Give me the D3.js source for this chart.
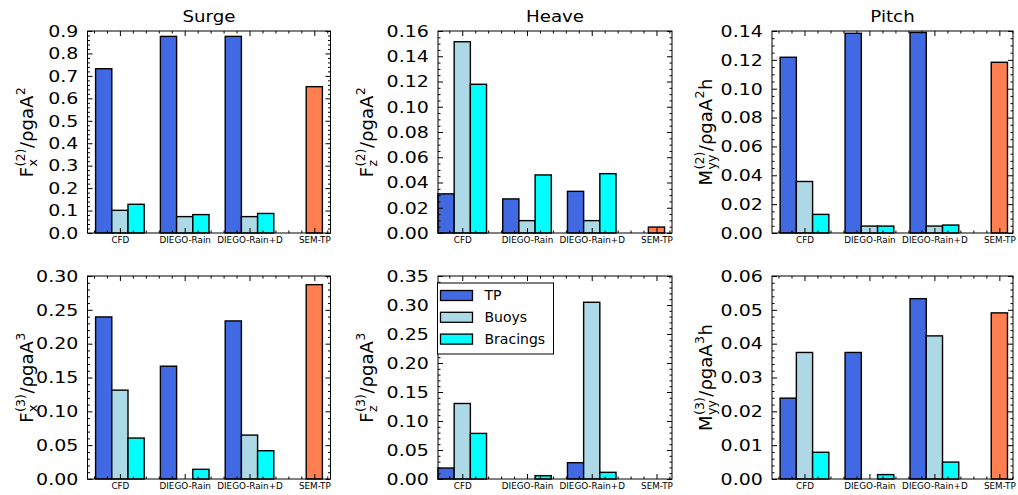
<!DOCTYPE html>
<html>
<head>
<meta charset="utf-8">
<script src="https://cdn.jsdelivr.net/npm/d3@7"></script>
<style>
  html, body { margin: 0; padding: 0; background: #fff; }
  svg { display: block; font-family: "DejaVu Sans", sans-serif; }
</style>
</head>
<body>
<svg id="fig" width="1018" height="495"></svg>
<script>
// Categories and series
const categories = ["CFD", "DIEGO-Rain", "DIEGO-Rain+D"];
const tickLabels = ["CFD", "DIEGO-Rain", "DIEGO-Rain+D", "SEM-TP"];
const seriesNames = ["TP", "Buoys", "Bracings"];
const seriesColors = ["#4169E1", "#ADD8E6", "#00FFFF"];
const semColor = "#FF7F50";

// Second-order loads
const surge2TP       = [0.732, 0.876, 0.876];
const surge2Buoys    = [0.101, 0.073, 0.073];
const surge2Bracings = [0.128, 0.082, 0.087];
const surge2Sem      = 0.652;

const heave2TP       = [0.031, 0.027, 0.033];
const heave2Buoys    = [0.1515, 0.0098, 0.0098];
const heave2Bracings = [0.1178, 0.046, 0.047];
const heave2Sem      = 0.0047;

const pitch2TP       = [0.1218, 0.1384, 0.139];
const pitch2Buoys    = [0.0357, 0.0048, 0.0048];
const pitch2Bracings = [0.0129, 0.0048, 0.0055];
const pitch2Sem      = 0.1183;

// Third-order loads
const surge3TP       = [0.2395, 0.1667, 0.2336];
const surge3Buoys    = [0.1313, 0.0, 0.0649];
const surge3Bracings = [0.0605, 0.0143, 0.0418];
const surge3Sem      = 0.2872;

const heave3TP       = [0.0189, 0.0, 0.0281];
const heave3Buoys    = [0.1302, 0.0, 0.3047];
const heave3Bracings = [0.0786, 0.0057, 0.0115];
const heave3Sem      = 0.0;

const pitch3TP       = [0.0239, 0.0374, 0.0533];
const pitch3Buoys    = [0.0374, 0.0, 0.0423];
const pitch3Bracings = [0.0079, 0.0013, 0.005];
const pitch3Sem      = 0.0491;

// Y axis tick labels per panel
const surge2Ticks = ["0.0","0.1","0.2","0.3","0.4","0.5","0.6","0.7","0.8","0.9"];
const heave2Ticks = ["0.00","0.02","0.04","0.06","0.08","0.10","0.12","0.14","0.16"];
const pitch2Ticks = ["0.00","0.02","0.04","0.06","0.08","0.10","0.12","0.14"];
const surge3Ticks = ["0.00","0.05","0.10","0.15","0.20","0.25","0.30"];
const heave3Ticks = ["0.00","0.05","0.10","0.15","0.20","0.25","0.30","0.35"];
const pitch3Ticks = ["0.00","0.01","0.02","0.03","0.04","0.05","0.06"];

const titles = ["Surge", "Heave", "Pitch"];

const panels = [
  { row: 0, col: 0, tp: surge2TP, buoys: surge2Buoys, brac: surge2Bracings, sem: surge2Sem, ticks: surge2Ticks, minor: 5,
    label: { base: "F", sub: "x", sup: "(2)", rest: "/\u03C1gaA", exp: "2", tail: "" } },
  { row: 0, col: 1, tp: heave2TP, buoys: heave2Buoys, brac: heave2Bracings, sem: heave2Sem, ticks: heave2Ticks, minor: 4,
    label: { base: "F", sub: "z", sup: "(2)", rest: "/\u03C1gaA", exp: "2", tail: "" } },
  { row: 0, col: 2, tp: pitch2TP, buoys: pitch2Buoys, brac: pitch2Bracings, sem: pitch2Sem, ticks: pitch2Ticks, minor: 4,
    label: { base: "M", sub: "yy", sup: "(2)", rest: "/\u03C1gaA", exp: "2", tail: "h" } },
  { row: 1, col: 0, tp: surge3TP, buoys: surge3Buoys, brac: surge3Bracings, sem: surge3Sem, ticks: surge3Ticks, minor: 5,
    label: { base: "F", sub: "x", sup: "(3)", rest: "/\u03C1gaA", exp: "3", tail: "" } },
  { row: 1, col: 1, tp: heave3TP, buoys: heave3Buoys, brac: heave3Bracings, sem: heave3Sem, ticks: heave3Ticks, minor: 5,
    label: { base: "F", sub: "z", sup: "(3)", rest: "/\u03C1gaA", exp: "3", tail: "" }, legend: true },
  { row: 1, col: 2, tp: pitch3TP, buoys: pitch3Buoys, brac: pitch3Bracings, sem: pitch3Sem, ticks: pitch3Ticks, minor: 5,
    label: { base: "M", sub: "yy", sup: "(3)", rest: "/\u03C1gaA", exp: "3", tail: "h" } }
];

// Layout of the 2x3 grid
const cols = [
  { l: 87.5, r: 330.5, dom: [-0.5, 3.25], lab: 33 },
  { l: 438, r: 672, dom: [-0.375, 3.24], lab: 373 },
  { l: 772, r: 1013, dom: [-0.5, 3.21], lab: 712 }
];
const rows = [ { t: 31, b: 233 }, { t: 276, b: 479 } ];

const svg = d3.select("#fig");
svg.append("rect").attr("width", 1018).attr("height", 495).attr("fill", "#fff");

const MAJ = 5, MIN = 2.5;
const barW = 0.25;
const WIDE = 1.15;   // horizontal widening of tick and title glyphs

function minorValues(domain, step, ndiv) {
  const out = [];
  const s = step / ndiv;
  const start = Math.ceil(domain[0] / s - 1e-9);
  const end = Math.floor(domain[1] / s + 1e-9);
  for (let k = start; k <= end; k++) {
    const v = k * s;
    if (Math.abs(v / step - Math.round(v / step)) > 1e-6) out.push(v);
  }
  return out;
}

panels.forEach(p => {
  const c = cols[p.col], r = rows[p.row];
  const g = svg.append("g");

  const yMax = +p.ticks[p.ticks.length - 1];
  const yStep = +p.ticks[1] - +p.ticks[0];
  const x = d3.scaleLinear().domain(c.dom).range([c.l, c.r]);
  const y = d3.scaleLinear().domain([0, yMax]).range([r.b, r.t]);

  // bars
  const series = [p.tp, p.buoys, p.brac];
  series.forEach((vals, si) => {
    g.selectAll(null).data(vals).enter().append("rect")
      .attr("x", (d, i) => x(i - 0.375 + si * barW))
      .attr("width", (d, i) => x(i - 0.375 + (si + 1) * barW) - x(i - 0.375 + si * barW))
      .attr("y", d => y(d))
      .attr("height", d => y(0) - y(d))
      .attr("fill", seriesColors[si])
      .attr("stroke", "#000")
      .attr("stroke-width", 1.4);
  });
  g.append("rect")
    .attr("x", x(3 - barW / 2))
    .attr("width", x(3 + barW / 2) - x(3 - barW / 2))
    .attr("y", y(p.sem))
    .attr("height", y(0) - y(p.sem))
    .attr("fill", semColor)
    .attr("stroke", "#000")
    .attr("stroke-width", 1.4);

  // axes (ticks point inward on all four sides)
  const majorY = p.ticks.map(Number);
  const minorY = minorValues([0, yMax], yStep, p.minor);
  const majorX = [0, 1, 2, 3];
  const minorX = minorValues(c.dom, 1, 5);

  const styleAxis = sel => {
    sel.select(".domain").remove();
    sel.selectAll("line").attr("stroke", "#000").attr("stroke-width", 1);
  };

  g.append("g").attr("transform", `translate(${c.l},0)`)
    .call(d3.axisLeft(y).tickValues(majorY).tickSize(-MAJ).tickPadding(8)
      .tickFormat((d, i) => p.ticks[i]))
    .call(styleAxis)
    .selectAll("text").attr("font-size", 16.5).attr("fill", "#000")
    .attr("font-family", "DejaVu Sans")
    .attr("transform", `scale(${WIDE},1)`);
  g.append("g").attr("transform", `translate(${c.l},0)`)
    .call(d3.axisLeft(y).tickValues(minorY).tickSize(-MIN).tickFormat(""))
    .call(styleAxis);
  g.append("g").attr("transform", `translate(${c.r},0)`)
    .call(d3.axisRight(y).tickValues(majorY).tickSize(-MAJ).tickFormat(""))
    .call(styleAxis);
  g.append("g").attr("transform", `translate(${c.r},0)`)
    .call(d3.axisRight(y).tickValues(minorY).tickSize(-MIN).tickFormat(""))
    .call(styleAxis);

  g.append("g").attr("transform", `translate(0,${r.b})`)
    .call(d3.axisBottom(x).tickValues(majorX).tickSize(-MAJ).tickPadding(4)
      .tickFormat((d, i) => tickLabels[i]))
    .call(styleAxis)
    .selectAll("text").attr("font-size", 8.8).attr("fill", "#000")
    .attr("font-family", "DejaVu Sans");
  g.append("g").attr("transform", `translate(0,${r.b})`)
    .call(d3.axisBottom(x).tickValues(minorX).tickSize(-MIN).tickFormat(""))
    .call(styleAxis);
  g.append("g").attr("transform", `translate(0,${r.t})`)
    .call(d3.axisTop(x).tickValues(majorX).tickSize(-MAJ).tickFormat(""))
    .call(styleAxis);
  g.append("g").attr("transform", `translate(0,${r.t})`)
    .call(d3.axisTop(x).tickValues(minorX).tickSize(-MIN).tickFormat(""))
    .call(styleAxis);

  // frame
  g.append("rect")
    .attr("x", c.l).attr("y", r.t)
    .attr("width", c.r - c.l).attr("height", r.b - r.t)
    .attr("fill", "none").attr("stroke", "#000").attr("stroke-width", 1);

  // title
  if (p.row === 0) {
    g.append("text")
      .attr("transform", `translate(${(c.l + c.r) / 2},22) scale(1.14,1)`)
      .attr("text-anchor", "middle")
      .attr("font-size", 16)
      .text(titles[p.col]);
  }

  // y label with sub/superscripts
  const fs = 18, ss = 0.7 * fs;
  const lg = g.append("g");
  const lab = p.label;
  let cx = 0;
  const t1 = lg.append("text").attr("x", cx).attr("y", 0).attr("font-size", fs).text(lab.base);
  cx += t1.node().getComputedTextLength() + 0.5;
  const tsup = lg.append("text").attr("x", cx).attr("y", -0.42 * fs).attr("font-size", ss).text(lab.sup);
  const tsub = lg.append("text").attr("x", cx).attr("y", 0.22 * fs).attr("font-size", ss).text(lab.sub);
  cx += Math.max(tsup.node().getComputedTextLength(), tsub.node().getComputedTextLength()) + 0.5;
  const t2 = lg.append("text").attr("x", cx).attr("y", 0).attr("font-size", fs).text(lab.rest);
  cx += t2.node().getComputedTextLength() + 0.5;
  const t3 = lg.append("text").attr("x", cx).attr("y", -0.42 * fs).attr("font-size", ss).text(lab.exp);
  cx += t3.node().getComputedTextLength() + 0.5;
  if (lab.tail) {
    const t4 = lg.append("text").attr("x", cx).attr("y", 0).attr("font-size", fs).text(lab.tail);
    cx += t4.node().getComputedTextLength();
  }
  const cy = (r.t + r.b) / 2;
  lg.attr("transform", `translate(${c.lab},${cy + cx / 2}) rotate(-90)`);

  // legend
  if (p.legend) {
    const lx = c.l - 0.5, ly = r.t + 7;
    const lgd = g.append("g").attr("transform", `translate(${lx},${ly})`);
    lgd.append("rect").attr("width", 116).attr("height", 71)
      .attr("fill", "#fff").attr("stroke", "#000").attr("stroke-width", 1);
    seriesNames.forEach((name, i) => {
      lgd.append("rect")
        .attr("x", 3).attr("y", 7.5 + i * 21.8)
        .attr("width", 32).attr("height", 10)
        .attr("fill", seriesColors[i]).attr("stroke", "#000").attr("stroke-width", 1.3);
      lgd.append("text")
        .attr("x", 47).attr("y", 12.5 + i * 21.8).attr("dy", "0.35em")
        .attr("font-size", 14)
        .text(name);
    });
  }
});
</script>
</body>
</html>
